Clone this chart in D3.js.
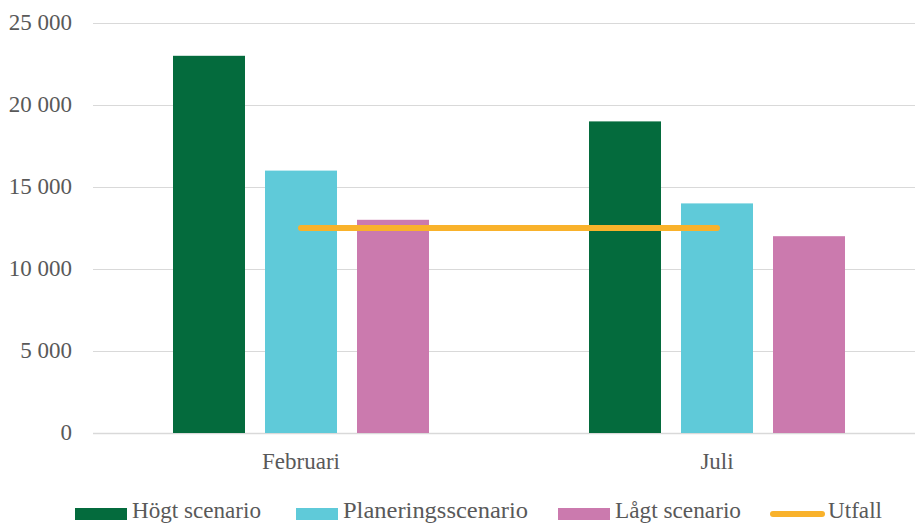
<!DOCTYPE html>
<html>
<head>
<meta charset="utf-8">
<script src="https://cdn.jsdelivr.net/npm/d3@7"></script>
<style>
  body { margin: 0; background: #fff; }
</style>
</head>
<body>
<div id="chart"></div>
<script>
var categories = ["Februari", "Juli"];
var seriesNames = ["Högt scenario", "Planeringsscenario", "Lågt scenario"];
var hogt = [23000, 19000];
var planering = [16000, 14000];
var lagt = [13000, 12000];
var utfall = [12500, 12500];
var yTicks = [0, 5000, 10000, 15000, 20000, 25000];

var colors = ["#046B3D", "#5FCAD9", "#CB7AAE"];
var lineColor = "#F9B22B";
var fontFam = "Liberation Serif";

var width = 915, height = 523;
var svg = d3.select("#chart").append("svg")
  .attr("width", width)
  .attr("height", height);

var x = d3.scaleBand()
  .domain(categories)
  .range([93, 925]);

var y = d3.scaleLinear()
  .domain([0, 25000])
  .range([433, 23]);

var fmt = function (d) { return d3.format(",")(d).replace(/,/g, " "); };

// gridlines
svg.selectAll("line.grid")
  .data(yTicks)
  .enter()
  .append("line")
  .attr("class", "grid")
  .attr("x1", 93)
  .attr("x2", width)
  .attr("y1", function (d) { return Math.round(y(d)) + 0.5; })
  .attr("y2", function (d) { return Math.round(y(d)) + 0.5; })
  .style("stroke", "#d9d9d9")
  .style("stroke-width", function (d) { return d == 0 ? 1.5 : 1; });

// tick labels
svg.selectAll("text.ytick")
  .data(yTicks)
  .enter()
  .append("text")
  .attr("class", "ytick lbl")
  .attr("x", 72)
  .attr("y", function (d) { return y(d); })
  .attr("dy", "0.3em")
  .attr("text-anchor", "end")
  .attr("font-size", 23)
  .attr("fill", "#595959")
  .text(fmt);

// bars
var barW = 72, gap = 20;
var allSeries = [hogt, planering, lagt];
allSeries.forEach(function (vals, s) {
  svg.selectAll("rect.s" + s)
    .data(vals)
    .enter()
    .append("rect")
    .attr("class", "s" + s)
    .attr("x", function (d, i) {
      var c = x(categories[i]) + x.bandwidth() / 2;
      return c - (3 * barW + 2 * gap) / 2 + s * (barW + gap);
    })
    .attr("width", barW)
    .attr("y", function (d) { return y(d); })
    .attr("height", function (d) { return y(0) - y(d); })
    .style("fill", colors[s]);
});

// utfall line
var line = d3.line()
  .x(function (d, i) { return x(categories[i]) + x.bandwidth() / 2; })
  .y(function (d) { return y(d); });

svg.append("path")
  .datum(utfall)
  .attr("d", line)
  .style("fill", "none")
  .style("stroke", lineColor)
  .style("stroke-width", 6)
  .style("stroke-linecap", "round");

// category labels
svg.selectAll("text.cat")
  .data(categories)
  .enter()
  .append("text")
  .attr("class", "cat lbl")
  .attr("x", function (d) { return x(d) + x.bandwidth() / 2; })
  .attr("y", 469)
  .attr("text-anchor", "middle")
  .attr("font-size", 23)
  .attr("fill", "#595959")
  .text(function (d) { return d; });

// legend
var legendItems = [
  { name: seriesNames[0], color: colors[0], type: "rect", x: 75, w: 52, tw: 129 },
  { name: seriesNames[1], color: colors[1], type: "rect", x: 296, w: 42, tw: 185 },
  { name: seriesNames[2], color: colors[2], type: "rect", x: 558, w: 52, tw: 126 },
  { name: "Utfall", color: lineColor, type: "line", x: 770, w: 55, tw: 54 }
];

var lg = svg.selectAll("g.legend")
  .data(legendItems)
  .enter()
  .append("g")
  .attr("class", "legend")
  .attr("transform", function (d) { return "translate(" + d.x + ",514)"; });

lg.filter(function (d) { return d.type == "rect"; })
  .append("rect")
  .attr("x", 0)
  .attr("y", -6)
  .attr("width", function (d) { return d.w; })
  .attr("height", 12)
  .style("fill", function (d) { return d.color; });

lg.filter(function (d) { return d.type == "line"; })
  .append("line")
  .attr("x1", 3)
  .attr("x2", function (d) { return d.w - 3; })
  .attr("y1", 0)
  .attr("y2", 0)
  .style("stroke", function (d) { return d.color; })
  .style("stroke-width", 6)
  .style("stroke-linecap", "round");

lg.append("text")
  .attr("class", "lbl")
  .attr("x", function (d) { return d.w + (d.type == "line" ? 3 : 5); })
  .attr("y", 4)
  .attr("font-size", 24)
  .attr("fill", "#595959")
  .attr("textLength", function (d) { return d.tw; })
  .attr("lengthAdjust", "spacingAndGlyphs")
  .text(function (d) { return d.name; });

function setFont() {
  svg.selectAll("text.lbl").attr("font-family", fontFam);
}
setFont();
setTimeout(setFont, 50);
</script>
</body>
</html>
